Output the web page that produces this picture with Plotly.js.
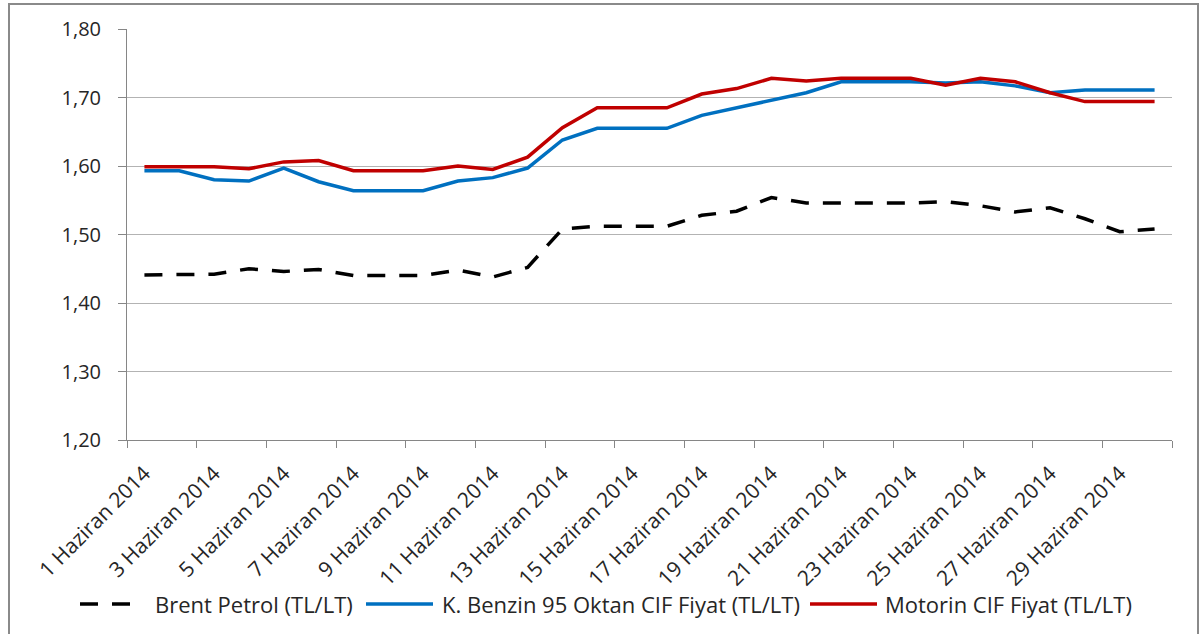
<!DOCTYPE html>
<html>
<head>
<meta charset="utf-8">
<script src="https://cdn.plot.ly/plotly-3.0.1.min.js"></script>
<style>
  html, body { margin: 0; padding: 0; background: #ffffff; }
  #chart { width: 1203px; height: 634px; position: absolute; left: 0; top: 0; }
  #frame { position: absolute; left: 8px; top: 3px; width: 1191px; height: 700px;
           border: 2px solid #8a8a8a; pointer-events: none; box-sizing: border-box; }
</style>
</head>
<body>
<div id="chart"></div>
<div id="frame"></div>
<script>
// Days of June 2014
const days = [1,2,3,4,5,6,7,8,9,10,11,12,13,14,15,16,17,18,19,20,21,22,23,24,25,26,27,28,29,30];
const categories = days.map(d => d + " Haziran 2014");

const seriesNames = ["Brent Petrol (TL/LT)", "K. Benzin 95 Oktan CIF Fiyat (TL/LT)", "Motorin CIF Fiyat (TL/LT)"];
const seriesColors = ["#000000", "#0070C0", "#C00000"];
const seriesDash = ["18px,14px", "solid", "solid"];

const brent = [1.441,1.441,1.442,1.450,1.446,1.449,1.440,1.440,1.440,1.448,
               1.438,1.452,1.508,1.512,1.512,1.512,1.528,1.534,1.554,1.546,
               1.546,1.546,1.546,1.548,1.542,1.533,1.539,1.523,1.504,1.508];
const benzin = [1.593,1.593,1.580,1.578,1.597,1.577,1.564,1.564,1.564,1.578,
                1.583,1.597,1.638,1.655,1.655,1.655,1.674,1.685,1.695,1.707,
                1.723,1.723,1.723,1.721,1.723,1.717,1.707,1.711,1.711,1.711];
const motorin = [1.599,1.599,1.599,1.596,1.606,1.608,1.593,1.593,1.593,1.600,
                 1.595,1.613,1.656,1.685,1.685,1.685,1.705,1.713,1.728,1.724,
                 1.728,1.728,1.728,1.718,1.728,1.723,1.707,1.694,1.694,1.694];
const seriesValues = [brent, benzin, motorin];

const yTicks = [1.2, 1.3, 1.4, 1.5, 1.6, 1.7, 1.8];

const FONT = "'Open Sans', 'Noto Sans', sans-serif";
const W = 1203, H = 634;
const M = { l: 127, r: 31, t: 29, b: 194 };
const plotW = W - M.l - M.r, plotH = H - M.t - M.b;
const px2x = px => (px - M.l) / plotW;           // pixel -> paper x
const py2y = py => (H - M.b - py) / plotH;        // pixel -> paper y

const traces = seriesValues.map((vals, i) => ({
  x: categories, y: vals, name: seriesNames[i], type: "scatter", mode: "lines",
  line: { color: seriesColors[i], width: 3.5, dash: seriesDash[i] }
}));

// Custom legend (Excel style): symbol segments + labels along one row
const legendRowY = py2y(604);
const legendSym = [[80, 133], [366, 433], [810, 877]];
const legendText = [153, 440, 883];
const shapes = legendSym.map((s, i) => ({
  type: "line", xref: "paper", yref: "paper",
  x0: px2x(s[0]), x1: px2x(s[1]), y0: legendRowY, y1: legendRowY,
  line: { color: seriesColors[i], width: 3.5, dash: seriesDash[i] }
}));
const annotations = legendText.map((t, i) => ({
  xref: "paper", yref: "paper", x: px2x(t), y: legendRowY,
  xanchor: "left", yanchor: "middle", showarrow: false,
  text: seriesNames[i], font: { family: FONT, size: 22, color: "#262626" }
}));

const layout = {
  width: W, height: H,
  margin: M,
  paper_bgcolor: "#ffffff", plot_bgcolor: "#ffffff",
  separators: ",.",
  font: { family: FONT, size: 20, color: "#262626" },
  showlegend: false,
  shapes: shapes,
  annotations: annotations,
  xaxis: {
    type: "category", range: [-0.5, 29.5],
    tickmode: "linear", dtick: 2, tick0: 0, tickson: "boundaries",
    tickangle: -45, ticks: "outside", ticklen: 7, tickcolor: "#868686",
    showline: true, linecolor: "#868686", linewidth: 1,
    showgrid: false, zeroline: false, ticklabelstandoff: 12,
    tickfont: { family: FONT, size: 21, color: "#262626" }
  },
  yaxis: {
    range: [1.2, 1.8], tickmode: "array", tickvals: yTicks, tickformat: ".2f",
    ticks: "outside", ticklen: 8, tickcolor: "#868686",
    showline: true, linecolor: "#868686", linewidth: 1,
    showgrid: true, gridcolor: "#b3b3b3", gridwidth: 1, zeroline: false,
    ticklabelstandoff: 13,
    tickfont: { family: FONT, size: 20, color: "#262626" }
  }
};

Plotly.newPlot("chart", traces, layout, { displayModeBar: false, staticPlot: true });
</script>
</body>
</html>
